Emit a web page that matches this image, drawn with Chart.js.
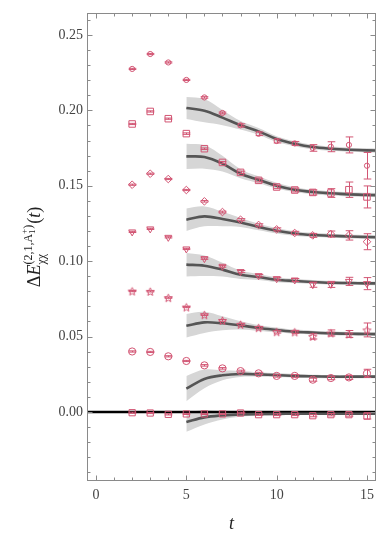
<!DOCTYPE html>
<html>
<head>
<meta charset="utf-8">
<script src="https://cdn.jsdelivr.net/npm/chart.js@4.4.0/dist/chart.umd.min.js"></script>
<style>
  html, body { margin: 0; padding: 0; background: #fff; }
</style>
</head>
<body>
<canvas id="myChart" width="390" height="539"></canvas>
<script>
// time slices
const tData = [2, 3, 4, 5, 6, 7, 8, 9, 10, 11, 12, 13, 14, 15];
const tFit = [5, 6, 7, 8, 9, 10, 11, 12, 13, 14, 15, 16];

// tick labels
const xTickValues = [0, 5, 10, 15];
const xTickLabels = ['0', '5', '10', '15'];
const yTickValues = [0, 0.05, 0.1, 0.15, 0.2, 0.25];
const yTickLabels = ['0.00', '0.05', '0.10', '0.15', '0.20', '0.25'];

// series 1 (top)
const s1Vals = [0.2275, 0.2374, 0.2318, 0.2202, 0.2086, 0.1983, 0.1901, 0.1845, 0.1797, 0.1781, 0.1751, 0.1759, 0.1771, 0.1633];
const s1Errs = [0.0004, 0.0004, 0.0004, 0.0004, 0.0005, 0.0006, 0.001, 0.0012, 0.0013, 0.0013, 0.0022, 0.0033, 0.0053, 0.0088];
const s1Fit = [0.2016, 0.1998, 0.1952, 0.1901, 0.1861, 0.181, 0.1779, 0.1757, 0.1746, 0.1739, 0.1735, 0.1733];
const s1Band = [0.0073, 0.0077, 0.005, 0.0028, 0.0022, 0.0019, 0.0016, 0.0015, 0.0014, 0.0014, 0.0014, 0.0014];

// series 2
const s2Vals = [0.191, 0.1993, 0.1945, 0.1846, 0.1746, 0.1655, 0.1589, 0.1536, 0.1492, 0.1472, 0.1456, 0.1452, 0.1474, 0.1426];
const s2Errs = [0.0004, 0.0004, 0.0004, 0.0005, 0.0005, 0.0006, 0.0008, 0.001, 0.0011, 0.0013, 0.0017, 0.0029, 0.0051, 0.0073];
const s2Fit = [0.1695, 0.1691, 0.1647, 0.158, 0.154, 0.1501, 0.1474, 0.1459, 0.145, 0.1443, 0.1439, 0.1438];
const s2Band = [0.0084, 0.0078, 0.0052, 0.003, 0.0023, 0.0019, 0.0016, 0.0015, 0.0014, 0.0014, 0.0014, 0.0014];

// series 3
const s3Vals = [0.1507, 0.158, 0.1545, 0.1472, 0.1397, 0.1326, 0.1275, 0.124, 0.1211, 0.1187, 0.1171, 0.118, 0.1171, 0.1129];
const s3Errs = [0.0004, 0.0004, 0.0004, 0.0004, 0.0005, 0.0006, 0.0007, 0.0008, 0.001, 0.0011, 0.0013, 0.002, 0.0031, 0.0053];
const s3Fit = [0.1275, 0.1297, 0.128, 0.1257, 0.1227, 0.1202, 0.1184, 0.1174, 0.1169, 0.1164, 0.116, 0.1158];
const s3Band = [0.0075, 0.0066, 0.0048, 0.003, 0.0022, 0.0018, 0.0015, 0.0014, 0.0013, 0.0013, 0.0013, 0.0013];

// series 4
const s4Vals = [0.1194, 0.1214, 0.1158, 0.1081, 0.1017, 0.0966, 0.0931, 0.0904, 0.0884, 0.0875, 0.0844, 0.0846, 0.0866, 0.0851];
const s4Errs = [0.0004, 0.0004, 0.0004, 0.0004, 0.0005, 0.0006, 0.0007, 0.0008, 0.0009, 0.001, 0.0017, 0.002, 0.0027, 0.004];
const s4Fit = [0.0977, 0.097, 0.0944, 0.091, 0.0895, 0.0877, 0.0869, 0.0862, 0.0857, 0.0855, 0.0853, 0.0852];
const s4Band = [0.0078, 0.0068, 0.0046, 0.0028, 0.002, 0.0016, 0.0014, 0.0013, 0.0012, 0.0012, 0.0012, 0.0012];

// series 5
const s5Vals = [0.0802, 0.08, 0.0758, 0.0696, 0.0645, 0.0607, 0.0581, 0.0559, 0.0532, 0.0531, 0.0501, 0.0524, 0.0517, 0.0544];
const s5Errs = [0.0004, 0.0004, 0.0004, 0.0004, 0.0005, 0.0006, 0.0007, 0.0008, 0.0009, 0.001, 0.0017, 0.002, 0.0023, 0.0046];
const s5Fit = [0.0572, 0.0594, 0.0588, 0.0574, 0.0557, 0.0544, 0.0532, 0.0526, 0.0521, 0.0519, 0.0517, 0.0516];
const s5Band = [0.0078, 0.007, 0.0046, 0.0028, 0.002, 0.0016, 0.0014, 0.0013, 0.0012, 0.0012, 0.0012, 0.0012];

// series 6
const s6Vals = [0.0401, 0.0398, 0.0369, 0.0338, 0.0309, 0.0289, 0.0271, 0.0256, 0.0239, 0.0239, 0.0214, 0.0225, 0.0229, 0.0256];
const s6Errs = [0.0004, 0.0004, 0.0004, 0.0004, 0.0005, 0.0005, 0.0006, 0.0007, 0.0008, 0.0009, 0.001, 0.0011, 0.0013, 0.0027];
const s6Fit = [0.0155, 0.0219, 0.0243, 0.0252, 0.0249, 0.0245, 0.0239, 0.0236, 0.0234, 0.0234, 0.0234, 0.0234];
const s6Band = [0.0084, 0.0062, 0.0033, 0.002, 0.0015, 0.0013, 0.0012, 0.0011, 0.0011, 0.0011, 0.0011, 0.0011];

// series 7 (near zero)
const s7Vals = [-0.0005, -0.0007, -0.0016, -0.0013, -0.0013, -0.0013, -0.0007, -0.0018, -0.0018, -0.0018, -0.0025, -0.0018, -0.0018, -0.0027];
const s7Errs = [0.0004, 0.0004, 0.0004, 0.0004, 0.0004, 0.0004, 0.0005, 0.0005, 0.0006, 0.0006, 0.0007, 0.0008, 0.001, 0.002];
const s7Fit = [-0.0066, -0.0036, -0.0023, -0.0016, -0.0014, -0.0013, -0.0012, -0.0012, -0.0012, -0.0012, -0.0012, -0.0012];
const s7Band = [0.0066, 0.0047, 0.0027, 0.0016, 0.0012, 0.001, 0.0009, 0.0009, 0.0009, 0.0009, 0.0009, 0.0009];

const pink = 'rgb(210, 85, 115)';
const fitColor = 'rgb(85, 85, 85)';
const bandColor = 'rgb(214, 214, 214)';
const serif = '"Liberation Serif", "DejaVu Serif", serif';

// open 5-point star marker
function starMarker(color, R) {
    var c = document.createElement('canvas');
    var size = Math.ceil(R * 2 + 4);
    c.width = c.height = size;
    var g = c.getContext('2d');
    g.strokeStyle = color;
    g.lineWidth = 1;
    g.beginPath();
    for (var k = 0; k < 10; k++) {
        var rr = k % 2 ? R * 0.45 : R;
        var a = -Math.PI / 2 + k * Math.PI / 5;
        var px = size / 2 + rr * Math.cos(a), py = size / 2 + 0.6 + rr * Math.sin(a);
        if (k) g.lineTo(px, py); else g.moveTo(px, py);
    }
    g.closePath();
    g.stroke();
    return c;
}

const series = [
    { vals: s1Vals, errs: s1Errs, fit: s1Fit, band: s1Band, style: 'circle', r: 2.6, rot: 0 },
    { vals: s2Vals, errs: s2Errs, fit: s2Fit, band: s2Band, style: 'rect', r: 4.6, rot: 0 },
    { vals: s3Vals, errs: s3Errs, fit: s3Fit, band: s3Band, style: 'rectRot', r: 3.8, rot: 0 },
    { vals: s4Vals, errs: s4Errs, fit: s4Fit, band: s4Band, style: 'triangle', r: 4, rot: 180 },
    { vals: s5Vals, errs: s5Errs, fit: s5Fit, band: s5Band, style: starMarker(pink, 4.2), r: 4, rot: 0 },
    { vals: s6Vals, errs: s6Errs, fit: s6Fit, band: s6Band, style: 'circle', r: 3.6, rot: 0 },
    { vals: s7Vals, errs: s7Errs, fit: s7Fit, band: s7Band, style: 'rect', r: 4.4, rot: 0 }
];

var curve = 0.35;
var datasets = [];
series.forEach(function(s) {
    datasets.push({
        data: tFit.map(function(t, i) { return { x: t, y: s.fit[i] + s.band[i] }; }),
        showLine: true, pointRadius: 0, borderWidth: 0, borderColor: 'rgba(0,0,0,0)',
        backgroundColor: bandColor, fill: '+1', tension: curve, order: 3
    });
    datasets.push({
        data: tFit.map(function(t, i) { return { x: t, y: s.fit[i] - s.band[i] }; }),
        showLine: true, pointRadius: 0, borderWidth: 0, borderColor: 'rgba(0,0,0,0)',
        fill: false, tension: curve, order: 3
    });
});
// zero reference line
datasets.push({
    data: [{ x: -1, y: 0 }, { x: 17, y: 0 }],
    showLine: true, pointRadius: 0, borderWidth: 2.4, borderColor: '#000', fill: false, order: 2
});
series.forEach(function(s) {
    datasets.push({
        data: tFit.map(function(t, i) { return { x: t, y: s.fit[i] }; }),
        showLine: true, pointRadius: 0, borderWidth: 2.6, borderColor: fitColor,
        fill: false, tension: curve, order: 1
    });
});
series.forEach(function(s) {
    datasets.push({
        data: tData.map(function(t, i) { return { x: t, y: s.vals[i] }; }),
        errs: s.errs,
        showLine: false, pointStyle: s.style, pointRadius: s.r, pointRotation: s.rot,
        pointBorderWidth: 1, pointBorderColor: pink, pointBackgroundColor: 'rgba(0,0,0,0)',
        borderColor: pink, order: 0
    });
});

// error bars, frame with inward ticks, axis titles
const decorations = {
    id: 'decorations',
    afterDatasetsDraw: function(chart) {
        var ctx = chart.ctx, y = chart.scales.y;
        ctx.save();
        ctx.strokeStyle = pink;
        ctx.lineWidth = 1;
        chart.data.datasets.forEach(function(ds, i) {
            if (!ds.errs) return;
            var meta = chart.getDatasetMeta(i);
            meta.data.forEach(function(pt, j) {
                var v = ds.data[j].y, e = ds.errs[j];
                var yt = y.getPixelForValue(v + e), yb = y.getPixelForValue(v - e);
                var x = Math.round(pt.x) + 0.5;
                ctx.beginPath();
                ctx.moveTo(x, yt); ctx.lineTo(x, yb);
                ctx.moveTo(x - 3.8, yt); ctx.lineTo(x + 3.8, yt);
                ctx.moveTo(x - 3.8, yb); ctx.lineTo(x + 3.8, yb);
                ctx.stroke();
            });
        });
        ctx.restore();
    },
    afterDraw: function(chart) {
        var ctx = chart.ctx, a = chart.chartArea, xs = chart.scales.x, ys = chart.scales.y;
        ctx.save();
        ctx.strokeStyle = '#8a8a8a';
        ctx.lineWidth = 1;
        var L = Math.round(a.left) + 0.5, R = Math.round(a.right) - 0.5;
        var T = Math.round(a.top) + 0.5, B = Math.round(a.bottom) - 0.5;
        ctx.strokeRect(L, T, R - L, B - T);
        ctx.beginPath();
        for (var t = 0; t <= 15; t++) {
            var px = Math.round(xs.getPixelForValue(t)) + 0.5;
            var len = t % 5 === 0 ? 5 : 3;
            ctx.moveTo(px, B); ctx.lineTo(px, B - len);
            ctx.moveTo(px, T); ctx.lineTo(px, T + len);
        }
        for (var k = -4; k <= 26; k++) {
            var py = Math.round(ys.getPixelForValue(k / 100)) + 0.5;
            var ln = k % 5 === 0 ? 5 : 3;
            ctx.moveTo(L, py); ctx.lineTo(L + ln, py);
            ctx.moveTo(R, py); ctx.lineTo(R - ln, py);
        }
        ctx.stroke();

        // x title
        ctx.fillStyle = '#222';
        ctx.textAlign = 'center';
        ctx.textBaseline = 'alphabetic';
        ctx.font = 'italic 18px ' + serif;
        ctx.fillText('t', (a.left + a.right) / 2, 529);

        // y title with sub/superscripts
        ctx.translate(40, (a.top + a.bottom) / 2);
        ctx.rotate(-Math.PI / 2);
        ctx.textAlign = 'left';
        var big = '18px ' + serif, bigI = 'italic 18px ' + serif;
        var sm = '12px ' + serif, tiny = '9px ' + serif;
        function run(draw, x0) {
            var x = x0;
            function put(txt, f, dy, adv) {
                ctx.font = f;
                var w = ctx.measureText(txt).width;
                if (draw) ctx.fillText(txt, x, dy);
                if (adv !== false) x += w;
                return w;
            }
            put('\u0394', big, 0);
            put('E', bigI, 0);
            var xs0 = x;
            var wsub = put('\u03c7\u03c7', sm, 5, false);
            put('(2,1,', sm, -8);
            put('A', sm, -8);
            var w1 = put('1', tiny, -5, false);
            var w2 = put('+', tiny, -13, false);
            x += Math.max(w1, w2);
            put(')', sm, -8);
            x = Math.max(x, xs0 + wsub) + 1;
            put('(', big, 0);
            put('t', bigI, 0);
            put(')', big, 0);
            return x - x0;
        }
        var total = run(false, 0);
        run(true, -total / 2);
        ctx.restore();
    }
};

var ctx = document.getElementById('myChart').getContext('2d');
var myChart = new Chart(ctx, {
    type: 'scatter',
    data: { datasets: datasets },
    options: {
        responsive: false,
        animation: false,
        devicePixelRatio: 1,
        layout: { padding: { top: 13, right: 14, left: 0, bottom: 0 } },
        plugins: { legend: { display: false }, tooltip: { enabled: false } },
        scales: {
            x: {
                type: 'linear', min: -0.5, max: 15.5,
                grid: { display: false, drawTicks: false },
                border: { display: false },
                afterBuildTicks: function(s) { s.ticks = xTickValues.map(function(v) { return { value: v }; }); },
                afterFit: function(s) { s.height = 58; },
                ticks: {
                    autoSkip: false, maxRotation: 0, padding: 6, color: '#444',
                    font: { family: serif, size: 14 },
                    callback: function(v, i) { return xTickLabels[i]; }
                }
            },
            y: {
                type: 'linear', min: -0.0458, max: 0.2646,
                grid: { display: false, drawTicks: false },
                border: { display: false },
                afterBuildTicks: function(s) { s.ticks = yTickValues.map(function(v) { return { value: v }; }); },
                afterFit: function(s) { s.width = 87; },
                ticks: {
                    autoSkip: false, padding: 4, color: '#444',
                    font: { family: serif, size: 14 },
                    callback: function(v, i) { return yTickLabels[i]; }
                }
            }
        }
    },
    plugins: [decorations]
});
</script>
</body>
</html>
